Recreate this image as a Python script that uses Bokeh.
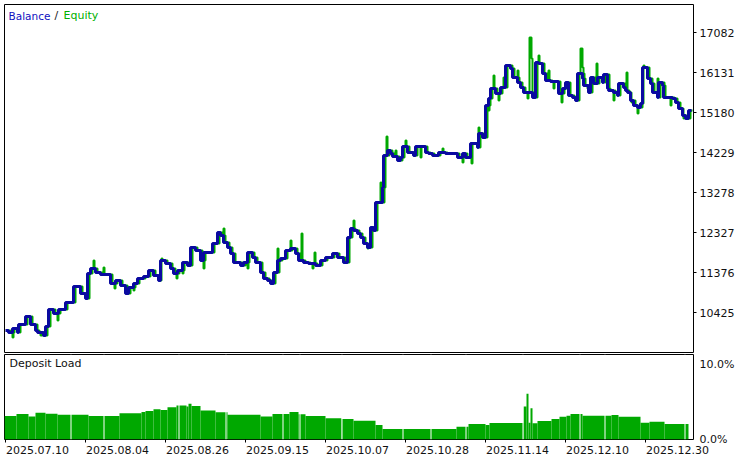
from bokeh.plotting import figure
from bokeh.layouts import column
from bokeh.models import Range1d, LinearAxis, FixedTicker, NumeralTickFormatter, Label
from bokeh.embed import file_html
from bokeh.resources import INLINE

# ---------------- data ----------------
# x = deal sequence position (chart is plotted by deal, not by calendar)
bal_x = [5, 8, 12, 17, 18, 25, 30, 35, 37, 43,
         45, 48, 53, 58, 65, 73, 80, 85, 87, 90,
         95, 100, 110, 115, 120, 125, 128, 133, 137, 143,
         148, 153, 158, 160, 165, 170, 173, 177, 182, 187,
         190, 195, 200, 203, 212, 217, 220, 223, 227, 230,
         233, 240, 243, 247, 252, 255, 260, 263, 267, 270,
         273, 277, 280, 285, 290, 295, 298, 303, 308, 315,
         320, 325, 332, 337, 343, 347, 350, 353, 357, 360,
         363, 367, 370, 373, 375, 382, 383, 387, 390, 392,
         397, 400, 402, 407, 413, 415, 425, 428, 432, 438,
         445, 457, 462, 465, 470, 477, 478, 482, 485, 488,
         490, 495, 500, 505, 510, 512, 517, 520, 523, 532,
         535, 538, 542, 545, 550, 558, 562, 565, 568, 572,
         575, 577, 582, 583, 588, 590, 593, 597, 602, 603,
         607, 608, 613, 617, 618, 623, 625, 627, 630, 633,
         637, 640, 642, 647, 650, 652, 657, 658, 662, 663,
         672, 675, 678, 682, 685, 688, 691]
bal_v = [9997, 9950, 10045, 9950, 10140, 10330, 10140, 9997, 9950, 9878,
         10093, 10496, 10401, 10496, 10663, 11043, 10877, 10758, 11352, 11471,
         11376, 11329, 11115, 11186, 11067, 10877, 11019, 11115, 11233, 11281,
         11424, 11305, 11186, 11661, 11590, 11471, 11352, 11424, 11614, 11542,
         11970, 11899, 11661, 11851, 12065, 12327, 12256, 12089, 11970, 11828,
         11614, 11542, 11614, 11851, 11733, 11614, 11376, 11233, 11186, 11115,
         11376, 11661, 11709, 11899, 11946, 11828, 11661, 11614, 11590, 11542,
         11661, 11733, 11828, 11733, 11614, 12208, 12422, 12375, 12303, 12208,
         12065, 11970, 12446, 12375, 13040, 13397, 14158, 14277, 14205, 14134,
         14039, 14110, 14372, 14229, 14158, 14372, 14229, 14205, 14158, 14229,
         14205, 14110, 14205, 14110, 14443, 14348, 14681, 14586, 15346, 15513,
         15751, 15632, 15774, 16297, 16226, 16012, 15893, 15774, 15655, 15536,
         16369, 16345, 16107, 15941, 15917, 15632, 15751, 15893, 15585, 15536,
         15465, 16107, 15988, 15822, 15655, 16012, 15870, 16012, 15893, 16083,
         15751, 15703, 15655, 15585, 15870, 15774, 15703, 15655, 15465, 15346,
         15299, 15394, 16250, 15988, 15870, 15655, 15536, 15893, 15822, 15536,
         15513, 15418, 15274, 15109, 15038, 15227, 15227]

eq_x = [7, 10, 12, 13, 14, 19, 20, 27, 30, 31,
        32, 37, 39, 40, 42, 45, 47, 50, 55, 57,
        58, 60, 67, 75, 82, 87, 89, 92, 93, 94,
        97, 102, 103, 104, 112, 114, 115, 117, 122, 127,
        130, 133, 134, 135, 139, 145, 150, 155, 160, 161,
        162, 167, 172, 175, 176, 177, 179, 182, 183, 184,
        189, 192, 197, 202, 203, 204, 205, 214, 219, 222,
        223, 224, 225, 229, 232, 235, 242, 245, 247, 248,
        249, 254, 257, 262, 265, 269, 272, 275, 277, 278,
        279, 282, 287, 290, 291, 292, 297, 300, 301, 302,
        305, 310, 312, 313, 314, 315, 317, 322, 327, 334,
        339, 345, 347, 348, 349, 352, 353, 354, 355, 359,
        362, 365, 367, 368, 369, 372, 375, 377, 380, 381,
        384, 385, 386, 387, 389, 392, 394, 395, 396, 399,
        402, 404, 405, 406, 409, 415, 417, 420, 421, 427,
        430, 434, 440, 442, 443, 447, 459, 462, 463, 464,
        467, 471, 472, 478, 479, 480, 484, 487, 488, 489,
        490, 492, 493, 494, 497, 498, 499, 502, 503, 504,
        507, 512, 514, 517, 518, 519, 522, 525, 527, 528,
        529, 531, 532, 534, 537, 538, 539, 540, 544, 547,
        548, 549, 552, 553, 554, 560, 561, 562, 564, 567,
        570, 574, 577, 579, 580, 582, 583, 584, 585, 587,
        588, 590, 592, 595, 596, 597, 599, 604, 605, 609,
        610, 613, 614, 615, 619, 620, 625, 626, 627, 629,
        631, 632, 635, 637, 638, 639, 642, 643, 644, 649,
        652, 654, 657, 658, 659, 660, 664, 665, 670, 671,
        674, 677, 680, 683, 684, 687, 690, 692]
eq_v = [9997, 9950, 9831, 9950, 10045, 9950, 10140, 10330, 10188, 10330,
        10140, 9997, 9950, 9878, 9950, 9878, 10093, 10496, 10401, 10235,
        10401, 10496, 10663, 11043, 10877, 10758, 11352, 11471, 11661, 11471,
        11376, 11329, 11495, 11329, 11115, 10996, 11115, 11186, 11067, 10877,
        11019, 10948, 11019, 11115, 11233, 11281, 11424, 11305, 11186, 11709,
        11661, 11590, 11471, 11352, 11233, 11352, 11424, 11352, 11424, 11614,
        11542, 11970, 11899, 11661, 11471, 11661, 11851, 12065, 12327, 12256,
        12422, 12256, 12089, 11970, 11828, 11614, 11542, 11614, 11471, 11614,
        11851, 11733, 11614, 11376, 11233, 11186, 11115, 11376, 11946, 11376,
        11661, 11709, 11899, 12137, 11899, 11946, 11828, 11661, 12303, 11661,
        11614, 11590, 11471, 11590, 11851, 11590, 11542, 11661, 11733, 11828,
        11733, 11614, 12137, 11614, 12208, 12422, 12613, 12422, 12375, 12303,
        12208, 12065, 11946, 12065, 11970, 12446, 12375, 13040, 13516, 13040,
        13397, 14158, 14609, 14158, 14277, 14205, 14134, 14277, 14134, 14039,
        14110, 14372, 14514, 14372, 14229, 14158, 14372, 14110, 14372, 14229,
        14205, 14158, 14229, 14324, 14229, 14205, 14110, 13992, 14110, 14205,
        14110, 13968, 14443, 14823, 14348, 14681, 14586, 15346, 15227, 15346,
        15513, 15751, 16060, 15751, 15632, 15465, 15632, 15774, 16012, 15774,
        16297, 16226, 16012, 16179, 16012, 15893, 15774, 15655, 15513, 15655,
        16963, 16464, 15655, 15536, 16369, 16535, 16369, 16345, 16107, 15941,
        16179, 15941, 15917, 15751, 15917, 15632, 15418, 15632, 15751, 15893,
        15585, 15536, 15465, 16107, 16702, 16250, 16107, 15988, 15822, 15751,
        15822, 15655, 16012, 15870, 16345, 15870, 16012, 15893, 16083, 15751,
        15703, 15465, 15703, 15655, 15585, 15870, 15774, 16131, 15703, 15655,
        15418, 15465, 15346, 15157, 15346, 15299, 15394, 16297, 16250, 15988,
        15870, 15655, 15988, 15655, 15536, 15893, 15822, 15536, 15346, 15536,
        15513, 15418, 15274, 15038, 15109, 15038, 15227, 15227]

# deposit load (%), left edge of each block
dl_x = [4, 16, 28, 35, 45, 57, 88, 119, 141, 145,
        153, 160, 167, 176, 186, 188, 191, 200, 215, 227,
        260, 272, 289, 298, 305, 325, 341, 353, 375, 382,
        456, 468, 485, 489, 523, 526, 528, 530, 532, 537,
        551, 559, 566, 570, 582, 611, 618, 640, 649, 664]
dl_v = [2.77, 3.0, 2.7, 3.16, 3.04, 2.9, 2.77, 3.1, 3.24, 3.36,
        3.56, 3.48, 3.8, 4.0, 3.87, 4.2, 3.95, 3.4, 3.2, 2.9,
        2.7, 3.0, 3.24, 2.96, 2.77, 2.5, 2.41, 2.21, 1.7, 1.23,
        1.5, 1.82, 1.7, 1.94, 3.87, 5.38, 1.98, 3.68, 1.9, 2.17,
        2.41, 2.69, 2.8, 3.0, 2.8, 2.88, 2.69, 1.98, 2.1, 1.82]
dl_end = 688
gap_x = [70, 103, 178, 225, 282, 299, 341, 402, 430, 465, 522, 579, 604, 684]

y_ticks = [9473, 10425, 11376, 12327, 13278, 14229, 15180, 16131, 17082]
date_tick_x = [5, 85, 165, 245, 325, 405, 485, 565, 645]
date_labels = ["2025.07.10", "2025.08.04", "2025.08.26", "2025.09.15", "2025.10.07",
               "2025.10.28", "2025.11.14", "2025.12.10", "2025.12.30"]

# ---------------- style ----------------
FONT = "DejaVu Sans"
FS = "11px"
BLUE = "#0A0AA0"
GREEN = "#00A800"

# ---------------- main chart ----------------
p1 = figure(frame_width=689, frame_height=348,
            min_border_left=4, min_border_right=50, min_border_top=4, min_border_bottom=1,
            x_range=Range1d(4, 693), y_range=Range1d(9474, 17748),
            x_axis_location=None, y_axis_location=None,
            toolbar_location=None, output_backend="svg",
            background_fill_color="white", border_fill_color="white",
            outline_line_color="black", outline_line_width=1)
p1.grid.visible = False

p1.step(x=eq_x, y=eq_v, mode="after", line_color=GREEN, line_width=2)
p1.step(x=bal_x, y=bal_v, mode="after", line_color=BLUE, line_width=3)

ya = LinearAxis(ticker=FixedTicker(ticks=y_ticks), formatter=NumeralTickFormatter(format="0"))
ya.axis_line_color = None
ya.major_tick_out = 3
ya.major_tick_in = 0
ya.major_tick_line_color = "black"
ya.minor_tick_line_color = None
ya.major_label_standoff = 3
ya.major_label_text_font = FONT
ya.major_label_text_font_size = FS
ya.major_label_text_color = "#111111"
p1.add_layout(ya, "right")

p1.add_layout(Label(x=8, y=17486, text="Balance", text_font=FONT, text_font_size="10.5px",
                    text_color="#1010C0", text_baseline="alphabetic"))
p1.add_layout(Label(x=54, y=17486, text="/", text_font=FONT, text_font_size=FS,
                    text_color="#202020", text_baseline="alphabetic"))
p1.add_layout(Label(x=63, y=17486, text="Equity", text_font=FONT, text_font_size=FS,
                    text_color="#00B000", text_baseline="alphabetic"))

# ---------------- deposit load ----------------
p2 = figure(frame_width=689, frame_height=85,
            min_border_left=4, min_border_right=50, min_border_top=1, min_border_bottom=2,
            x_range=Range1d(4, 693), y_range=Range1d(0, 10),
            x_axis_location=None, y_axis_location=None,
            toolbar_location=None, output_backend="svg",
            background_fill_color="white", border_fill_color="white",
            outline_line_color="black", outline_line_width=1)
p2.grid.visible = False

dl_right = dl_x[1:] + [dl_end]
p2.quad(left=dl_x, right=dl_right, bottom=0, top=dl_v, fill_color=GREEN, line_color=None)
p2.segment(x0=[g + 0.5 for g in gap_x], y0=0, x1=[g + 0.5 for g in gap_x], y1=10,
           line_color="white", line_width=1)

ya2 = LinearAxis(ticker=FixedTicker(ticks=[0, 8.8]))
ya2.major_label_overrides = {0: "0.0%", 8.8: "10.0%"}
ya2.axis_line_color = None
ya2.major_tick_line_color = None
ya2.major_tick_out = 0
ya2.major_tick_in = 0
ya2.minor_tick_line_color = None
ya2.major_label_standoff = 6
ya2.major_label_text_font = FONT
ya2.major_label_text_font_size = FS
ya2.major_label_text_color = "#111111"
p2.add_layout(ya2, "right")

xa_ticks = LinearAxis(ticker=FixedTicker(ticks=date_tick_x))
xa_ticks.major_label_overrides = {t: "" for t in date_tick_x}
xa_ticks.major_label_text_font_size = "0px"
xa_ticks.major_label_standoff = 0
xa_ticks.axis_line_color = None
xa_ticks.major_tick_out = 3
xa_ticks.major_tick_in = 0
xa_ticks.major_tick_line_color = "black"
xa_ticks.minor_tick_line_color = None
p2.add_layout(xa_ticks, "below")

label_x = [t + 32 for t in date_tick_x]
xa_lab = LinearAxis(ticker=FixedTicker(ticks=label_x))
xa_lab.major_label_overrides = {lx: s for lx, s in zip(label_x, date_labels)}
xa_lab.axis_line_color = None
xa_lab.major_tick_line_color = None
xa_lab.major_tick_out = 0
xa_lab.major_tick_in = 0
xa_lab.minor_tick_line_color = None
xa_lab.major_label_standoff = 3
xa_lab.major_label_text_font = FONT
xa_lab.major_label_text_font_size = FS
xa_lab.major_label_text_color = "#111111"
p2.add_layout(xa_lab, "below")

p2.add_layout(Label(x=9, y=9.0, text="Deposit Load", text_font=FONT, text_font_size=FS,
                    text_color="#111111", text_baseline="alphabetic"))

layout = column(p1, p2, spacing=0)

open("out.html", "w").write(file_html(layout, INLINE))
